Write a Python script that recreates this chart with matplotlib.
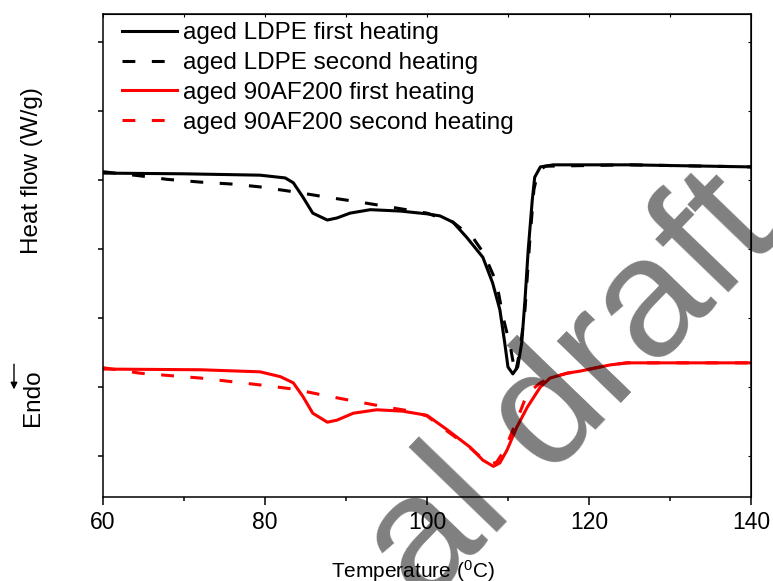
import matplotlib
matplotlib.use("Agg")
import matplotlib.pyplot as plt

plt.rcParams['font.family'] = ['Liberation Sans', 'DejaVu Sans']
plt.rcParams['mathtext.fontset'] = 'custom'
plt.rcParams['mathtext.rm'] = 'Liberation Sans'

# DSC traces, temperature in C, heat flow in arbitrary offset units
ldpe1_t = [60, 70, 79.4, 82.5, 83.5, 84.7, 85.9, 87.7, 88.9, 90.5, 93.0, 96.7,
           100.0, 101.6, 103.2, 104.9, 106.9, 108.1, 109.0, 109.6, 110.0,
           110.6, 111.2, 111.7, 112.1, 112.5, 113.0, 113.3, 114.0, 115.6,
           125, 140]
ldpe1_hf = [4.10, 4.09, 4.07, 4.03, 3.96, 3.75, 3.52, 3.42, 3.45, 3.52, 3.57,
            3.55, 3.51, 3.48, 3.39, 3.17, 2.88, 2.51, 2.12, 1.64, 1.29, 1.19,
            1.29, 1.64, 2.26, 2.99, 3.71, 4.04, 4.19, 4.22, 4.22, 4.19]

ldpe2_t = [60, 64.6, 67.9, 72.0, 76.1, 79.4, 83.5, 87.7, 91.7, 95.4, 100.0,
           103.2, 105.7, 107.0, 108.6, 109.4, 110.3, 110.9, 111.5, 112.1,
           112.7, 113.2, 113.7, 114.6, 125, 140]
ldpe2_hf = [4.12, 4.06, 4.01, 3.97, 3.94, 3.90, 3.83, 3.75, 3.68, 3.61, 3.52,
            3.39, 3.16, 2.94, 2.51, 2.01, 1.58, 1.19, 1.54, 2.12, 3.13, 3.86,
            4.12, 4.20, 4.22, 4.19]

af1_t = [60, 72.0, 79.4, 81.9, 83.5, 84.7, 85.9, 87.7, 88.9, 90.9, 93.8, 97.0,
         100.0, 102.5, 105.3, 106.9, 108.2, 109.0, 109.9, 111.1, 112.4, 114.0,
         115.2, 117.3, 118.9, 122.6, 124.7, 132.8, 140]
af1_hf = [1.26, 1.25, 1.22, 1.15, 1.06, 0.86, 0.62, 0.49, 0.52, 0.62, 0.67,
          0.65, 0.59, 0.38, 0.13, -0.06, -0.15, -0.10, 0.09, 0.42, 0.71, 1.00,
          1.13, 1.20, 1.23, 1.32, 1.35, 1.35, 1.35]

af2_t = [60, 64.6, 72.0, 79.4, 83.5, 87.7, 91.7, 95.4, 98.0, 100.0, 102.5,
         105.3, 106.9, 107.8, 108.6, 109.6, 111.1, 112.4, 114.0, 115.2, 117.3,
         118.9, 122.6, 124.7, 132.8, 140]
af2_hf = [1.28, 1.20, 1.13, 1.03, 0.97, 0.87, 0.78, 0.70, 0.65, 0.58, 0.36,
          0.12, -0.04, -0.12, -0.09, 0.09, 0.52, 0.91, 1.06, 1.13, 1.20, 1.23,
          1.32, 1.35, 1.35, 1.35]

yticks = [0, 1, 2, 3, 4, 5, 6]

fig = plt.figure(figsize=(7.73, 5.81), dpi=100)
ax = fig.add_axes([0.1332, 0.1446, 0.8383, 0.8313])

lw = 2.2
dash = (4.2, 5.4)
ax.plot(ldpe1_t, ldpe1_hf, color='black', lw=lw, label='aged LDPE first heating')
ax.plot(ldpe2_t, ldpe2_hf, color='black', lw=lw, dashes=dash,
        label='aged LDPE second heating')
ax.plot(af1_t, af1_hf, color='red', lw=lw, label='aged 90AF200 first heating')
ax.plot(af2_t, af2_hf, color='red', lw=lw, dashes=dash,
        label='aged 90AF200 second heating')

ax.set_xlim(60, 140)
ax.set_ylim(-0.594, 6.406)
ax.set_xticks([60, 80, 100, 120, 140])
ax.set_xticks([70, 90, 110, 130], minor=True)
ax.set_yticks(yticks)
ax.set_yticklabels([])

for s in ax.spines.values():
    s.set_linewidth(1.1)
ax.tick_params(axis='x', which='major', direction='out', length=6, width=1.1,
               labelsize=16.5, pad=4)
ax.tick_params(axis='x', which='minor', direction='out', length=3, width=1.1)
ax.tick_params(axis='y', direction='out', length=3.6, width=1.1)

# small inward ticks on the top and right edges
top = ax.secondary_xaxis('top')
top.set_xticks([60, 70, 80, 90, 100, 110, 120, 130, 140])
top.set_xticklabels([])
top.tick_params(direction='in', length=2.5, width=0.8)
right = ax.secondary_yaxis('right')
right.set_yticks(yticks)
right.set_yticklabels([])
right.tick_params(direction='in', length=2.5, width=0.8)

ax.set_xlabel('Temperature ($\\mathregular{^{0}}$C)', fontsize=15)
ax.xaxis.set_label_coords(0.478, -0.127)
ax.set_ylabel('Heat flow (W/g)', fontsize=17.5)
ax.yaxis.set_label_coords(-0.093, 0.675)

fig.text(0.0433, 0.315, 'Endo', rotation=90, ha='center', va='center',
         fontsize=17.5)
ax.annotate('', xy=(0.0181, 0.325), xytext=(0.0181, 0.378),
            xycoords='figure fraction', textcoords='figure fraction',
            arrowprops=dict(arrowstyle='-|>', color='black', lw=1.0,
                            mutation_scale=10))

ax.legend(loc='upper left', bbox_to_anchor=(0.029, 0.983), frameon=False,
          fontsize=17.5, handlelength=2.26, handletextpad=0.25,
          labelspacing=0.32, borderaxespad=0, borderpad=0)

fig.text(0.548, -0.045, 'al draft', rotation=46, rotation_mode='anchor',
         ha='left', va='baseline', fontsize=122, color='black', alpha=0.5,
         zorder=10)

fig.savefig('out.png', dpi=100)
